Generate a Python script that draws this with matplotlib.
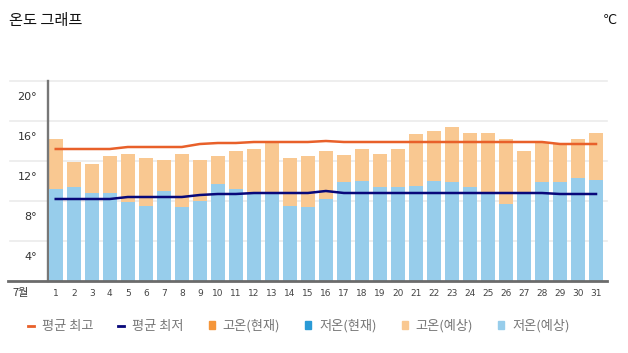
import numpy as np
import matplotlib.pyplot as plt
from matplotlib.patches import Patch
from matplotlib.lines import Line2D

plt.rcParams['font.family'] = ['Noto Sans CJK KR', 'DejaVu Sans']

days = list(range(1, 32))
high_fc = [14.2, 11.9, 11.7, 12.5, 12.7, 12.3, 12.1, 12.7, 12.1, 12.5,
           13.0, 13.2, 13.8, 12.3, 12.5, 13.0, 12.6, 13.2, 12.7, 13.2,
           14.7, 15.0, 15.4, 14.8, 14.8, 14.2, 13.0, 13.8, 13.7, 14.2, 14.8]
low_fc = [9.2, 9.4, 8.8, 8.8, 7.9, 7.5, 9.0, 7.4, 8.0, 9.7,
          9.2, 8.8, 8.8, 7.5, 7.4, 8.2, 9.9, 10.0, 9.4, 9.4,
          9.5, 10.0, 9.9, 9.4, 8.8, 7.7, 8.8, 9.9, 9.9, 10.3, 10.1]
avg_high = [13.2, 13.2, 13.2, 13.2, 13.4, 13.4, 13.4, 13.4, 13.7, 13.8,
            13.8, 13.9, 13.9, 13.9, 13.9, 14.0, 13.9, 13.9, 13.9, 13.9,
            13.9, 13.9, 13.9, 13.9, 13.9, 13.9, 13.9, 13.9, 13.7, 13.7, 13.7]
avg_low = [8.2, 8.2, 8.2, 8.2, 8.4, 8.4, 8.4, 8.4, 8.6, 8.7,
           8.7, 8.8, 8.8, 8.8, 8.8, 9.0, 8.8, 8.8, 8.8, 8.8,
           8.8, 8.8, 8.8, 8.8, 8.8, 8.8, 8.8, 8.8, 8.7, 8.7, 8.7]
yticks = [4, 8, 12, 16, 20]
legend_labels = ['평균 최고', '평균 최저', '고온(현재)', '저온(현재)', '고온(예상)', '저온(예상)']

c_high_fc = '#F9C891'
c_low_fc = '#97CDEB'
c_high_now = '#F5963A'
c_low_now = '#2A9AD6'
c_avg_high = '#E8602A'
c_avg_low = '#08087A'

fig = plt.figure(figsize=(6.28, 3.53), dpi=100)
ax = fig.add_axes([48 / 628, 1 - 281 / 353, 559 / 628, 200 / 353])

# gridlines (extend a bit left of the axis)
for v in yticks:
    ax.axhline(v, xmin=-0.068, xmax=1, color='#ebebeb', lw=1.2, clip_on=False, zorder=0)
    ax.annotate(f'{v}°', xy=(0, v), xycoords=('axes fraction', 'data'),
                xytext=(-11, -16), textcoords='offset pixels',
                ha='right', va='center', fontsize=8, color='#333333',
                family='DejaVu Sans')

ax.bar(days, high_fc, width=0.76, color=c_high_fc, zorder=2)
ax.bar(days, low_fc, width=0.76, color=c_low_fc, zorder=3)
ax.plot(days, avg_high, color=c_avg_high, lw=1.8, zorder=4)
ax.plot(days, avg_low, color=c_avg_low, lw=1.8, zorder=4)

ax.set_xlim(0.57, 31.61)
ax.set_ylim(0, 20)
ax.set_yticks([])
ax.set_xticks(days)
ax.set_xticklabels([str(d) for d in days], fontsize=6.5, color='#444444', family='DejaVu Sans')
ax.tick_params(axis='x', length=0, pad=6)

for s in ['top', 'right', 'bottom']:
    ax.spines[s].set_visible(False)
ax.spines['left'].set_color('#777777')
ax.spines['left'].set_linewidth(1.7)

# bottom axis line extends to the left edge
ax.axhline(0, xmin=-0.072, xmax=1, color='#6b6b6b', lw=2, clip_on=False, zorder=5)
ax.annotate('7월', xy=(0, 0), xycoords='axes fraction', xytext=(-27, -12),
            textcoords='offset pixels', ha='center', va='center', fontsize=8, color='#333333')

fig.text(9 / 628, 1 - 20 / 353, '온도 그래프', fontsize=11, color='#111111', va='center', ha='left')
fig.text(617 / 628, 1 - 20 / 353, '℃', fontsize=9, color='#111111', va='center', ha='right',
         family=['DejaVu Sans'])

handles = [Line2D([], [], color=c_avg_high, lw=2),
           Line2D([], [], color=c_avg_low, lw=2),
           Patch(color=c_high_now), Patch(color=c_low_now),
           Patch(color=c_high_fc), Patch(color=c_low_fc)]
fig.legend(handles, legend_labels, loc='center left', bbox_to_anchor=(28 / 628, 1 - 326 / 353),
           ncol=6, frameon=False, fontsize=9.5, labelcolor='#777777',
           handlelength=0.45, handleheight=0.45, handletextpad=0.6, columnspacing=1.9,
           borderpad=0, borderaxespad=0)

fig.savefig('out.png', dpi=100)
